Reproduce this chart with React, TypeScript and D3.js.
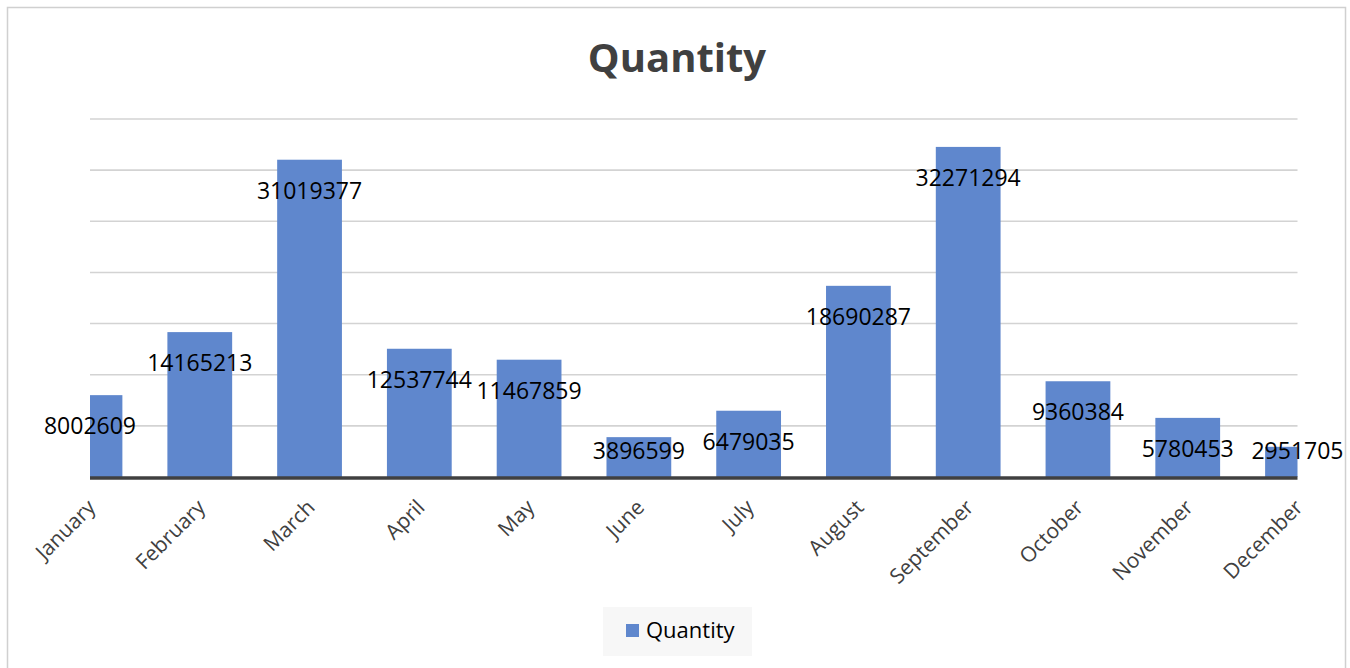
import React from "react";
import * as d3 from "d3";

const months = ["January","February","March","April","May","June","July","August","September","October","November","December"];
const quantities = [8002609,14165213,31019377,12537744,11467859,3896599,6479035,18690287,32271294,9360384,5780453,2951705];
const gridTicks = [5000000,10000000,15000000,20000000,25000000,30000000,35000000];
const seriesName = "Quantity";

const W = 1350, H = 668;
const left = 90, right = 1297.5, base = 477, top = 119;
const font = "'Open Sans', 'Noto Sans', sans-serif";
const barColor = "#5f87cd";

export default function App() {
  const x = d3.scalePoint<string>().domain(months).range([left, right]);
  const y = d3.scaleLinear().domain([0, 35000000]).range([base, top]);
  const step = x.step();
  const bw = step * 0.59;
  return (
    <svg width={W} height={H} style={{ position: "absolute", left: 0, top: 0, background: "#fff" }} fontFamily={font}>
      <defs>
        <clipPath id="plot">
          <rect x={left} y={0} width={right - left} height={base + 2} />
        </clipPath>
      </defs>
      <rect x={7.5} y={7.5} width={1338} height={670} fill="#fff" stroke="#d0d0d0" strokeWidth={1.5} />
      <text x={677} y={72} textAnchor="middle" fontSize={40} fontWeight="bold" fill="#404040">{seriesName}</text>
      {gridTicks.map((t) => (
        <line key={t} x1={left} x2={right} y1={y(t)} y2={y(t)} stroke="#d3d3d3" strokeWidth={1.6} />
      ))}
      <g clipPath="url(#plot)">
        {months.map((m, i) => (
          <rect key={m} x={x(m)! - bw / 2} y={y(quantities[i])} width={bw} height={base - y(quantities[i])} fill={barColor} />
        ))}
      </g>
      <line x1={left} x2={right} y1={base + 1} y2={base + 1} stroke="#404040" strokeWidth={3.5} />
      {months.map((m, i) => (
        <text key={"l" + m} x={x(m)!} y={Math.min(y(quantities[i]) + 30, 450)} textAnchor="middle" dominantBaseline="central" fontSize={23} fill="#000">
          {quantities[i]}
        </text>
      ))}
      {months.map((m) => (
        <text key={"a" + m} transform={`translate(${x(m)! + 1},${503}) rotate(-45)`} textAnchor="end" dominantBaseline="central" fontSize={21} fill="#404040">
          {m}
        </text>
      ))}
      <rect x={603} y={607} width={149} height={49} fill="#f7f7f7" />
      <rect x={626} y={624} width={13} height={13} fill={barColor} />
      <text x={646} y={638} fontSize={22} fill="#000">{seriesName}</text>
    </svg>
  );
}
